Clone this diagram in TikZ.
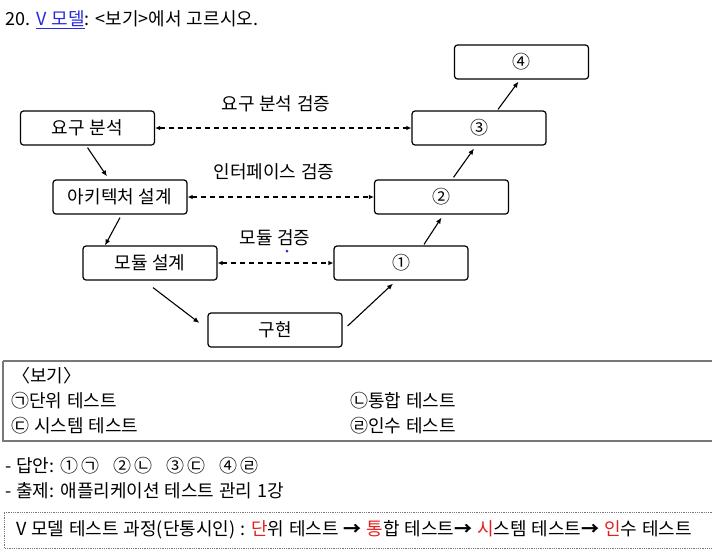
\documentclass[tikz,border=0pt]{standalone}
\usepackage{fontspec}
\setmainfont[WordSpace=1.2]{Noto Sans CJK KR}
\usetikzlibrary{arrows.meta}
\definecolor{linkblue}{RGB}{40,40,220}
\definecolor{keyred}{RGB}{230,30,30}
\definecolor{framegray}{RGB}{120,120,120}
\begin{document}
\begin{tikzpicture}[x=1pt,y=-1pt,
  font=\fontsize{18}{21}\selectfont,
  stage/.style={draw, line width=1.2pt, rounded corners=3pt,
    minimum width=134pt, minimum height=34pt, inner sep=0pt},
  flow/.style={line width=1.1pt, -{Latex[length=6pt,width=5pt]}},
  verify/.style={line width=1.2pt, dash pattern=on 5pt off 4pt,
    {Latex[length=5pt,width=4.5pt]}-{Latex[length=5pt,width=4.5pt]}},
  txt/.style={anchor=west, inner sep=0pt}]
\useasboundingbox (0,0) rectangle (712,552);

% title
\node[txt] (title) at (5,20) {20. \textcolor{linkblue}{\underline{V 모델}}: <보기>에서 고르시오.};

% left branch of the V
\node[stage] (req)  at (87.5,128) {요구 분석};
\node[stage] (arch) at (120,197)  {아키텍처 설계};
\node[stage] (mod)  at (150,263)  {모듈 설계};
\node[stage] (impl) at (275,330)  {구현};
% right branch of the V
\node[stage] (c1) at (401,263)   {①};
\node[stage] (c2) at (441.5,197) {②};
\node[stage] (c3) at (479,128)   {③};
\node[stage] (c4) at (521.5,62)  {④};

% development flow
\draw[flow] (req.south) ++(0,-2pt) -- ([xshift=-13pt,yshift=3pt]arch.north);
\draw[flow] ([yshift=-3pt]arch.south) -- ([xshift=-15pt]arch.south |- mod.north);
\draw[flow] ([xshift=3pt,yshift=-7pt]mod.south) -- ([xshift=-8pt,yshift=7pt]impl.west);
\draw[flow] ([xshift=5pt,yshift=4pt]impl.east) -- ([xshift=-8pt,yshift=-3pt]c1.south);
\draw[flow] ([xshift=23pt,yshift=1pt]c1.north) -- ([yshift=-3pt]c2.south);
\draw[flow] ([xshift=12pt,yshift=2pt]c2.north) -- ([xshift=-5pt,yshift=-3pt]c3.south);
\draw[flow] ([xshift=19pt,yshift=1pt]c3.north) -- ([xshift=-3pt,yshift=-2pt]c4.south);

% verification links
\draw[verify] (req.east) -- (c3.west);
\draw[verify] (arch.east) -- (c2.west);
\draw[verify] (mod.east) -- (c1.west);
\node (l1) at (276,104) {요구 분석 검증};
\node (l2) at (274,172) {인터페이스 검증};
\node (l3) at (275,238) {모듈 검증};
\fill[linkblue] (287,251) circle (1.5pt);

% choices
\draw[framegray, line width=1.5pt] (3,361) -- (714,361) (3,361) -- (3,441) -- (714,441);
\node[txt] (bogi) at (12,376) {〈보기〉};
\node[txt] (ch1) at (11,401) {㉠단위 테스트};
\node[txt] (ch2) at (350,401) {㉡통합 테스트};
\node[txt] (ch3) at (11,426) {㉢ 시스템 테스트};
\node[txt] (ch4) at (350,426) {㉣인수 테스트};

% answer and source
\node[txt] (ans) at (5,466) {- 답안: ①\,㉠\hspace{14pt}②\,㉡\hspace{14pt}③\,㉢\hspace{14pt}④\,㉣};
\node[txt] (src) at (5,491) {- 출제: 애플리케이션 테스트 관리 1강};

% summary
\draw[framegray, densely dotted, line width=0.8pt] (714,512) -- (4,512) -- (4,548) -- (714,548);
\node[txt] (sum) at (16,530) {V 모델 테스트 과정(단통시인) : \textcolor{keyred}{단}위 테스트 \textbf{→} \textcolor{keyred}{통}합 테스트\textbf{→} \textcolor{keyred}{시}스템 테스트\textbf{→} \textcolor{keyred}{인}수 테스트};
\end{tikzpicture}
\end{document}
